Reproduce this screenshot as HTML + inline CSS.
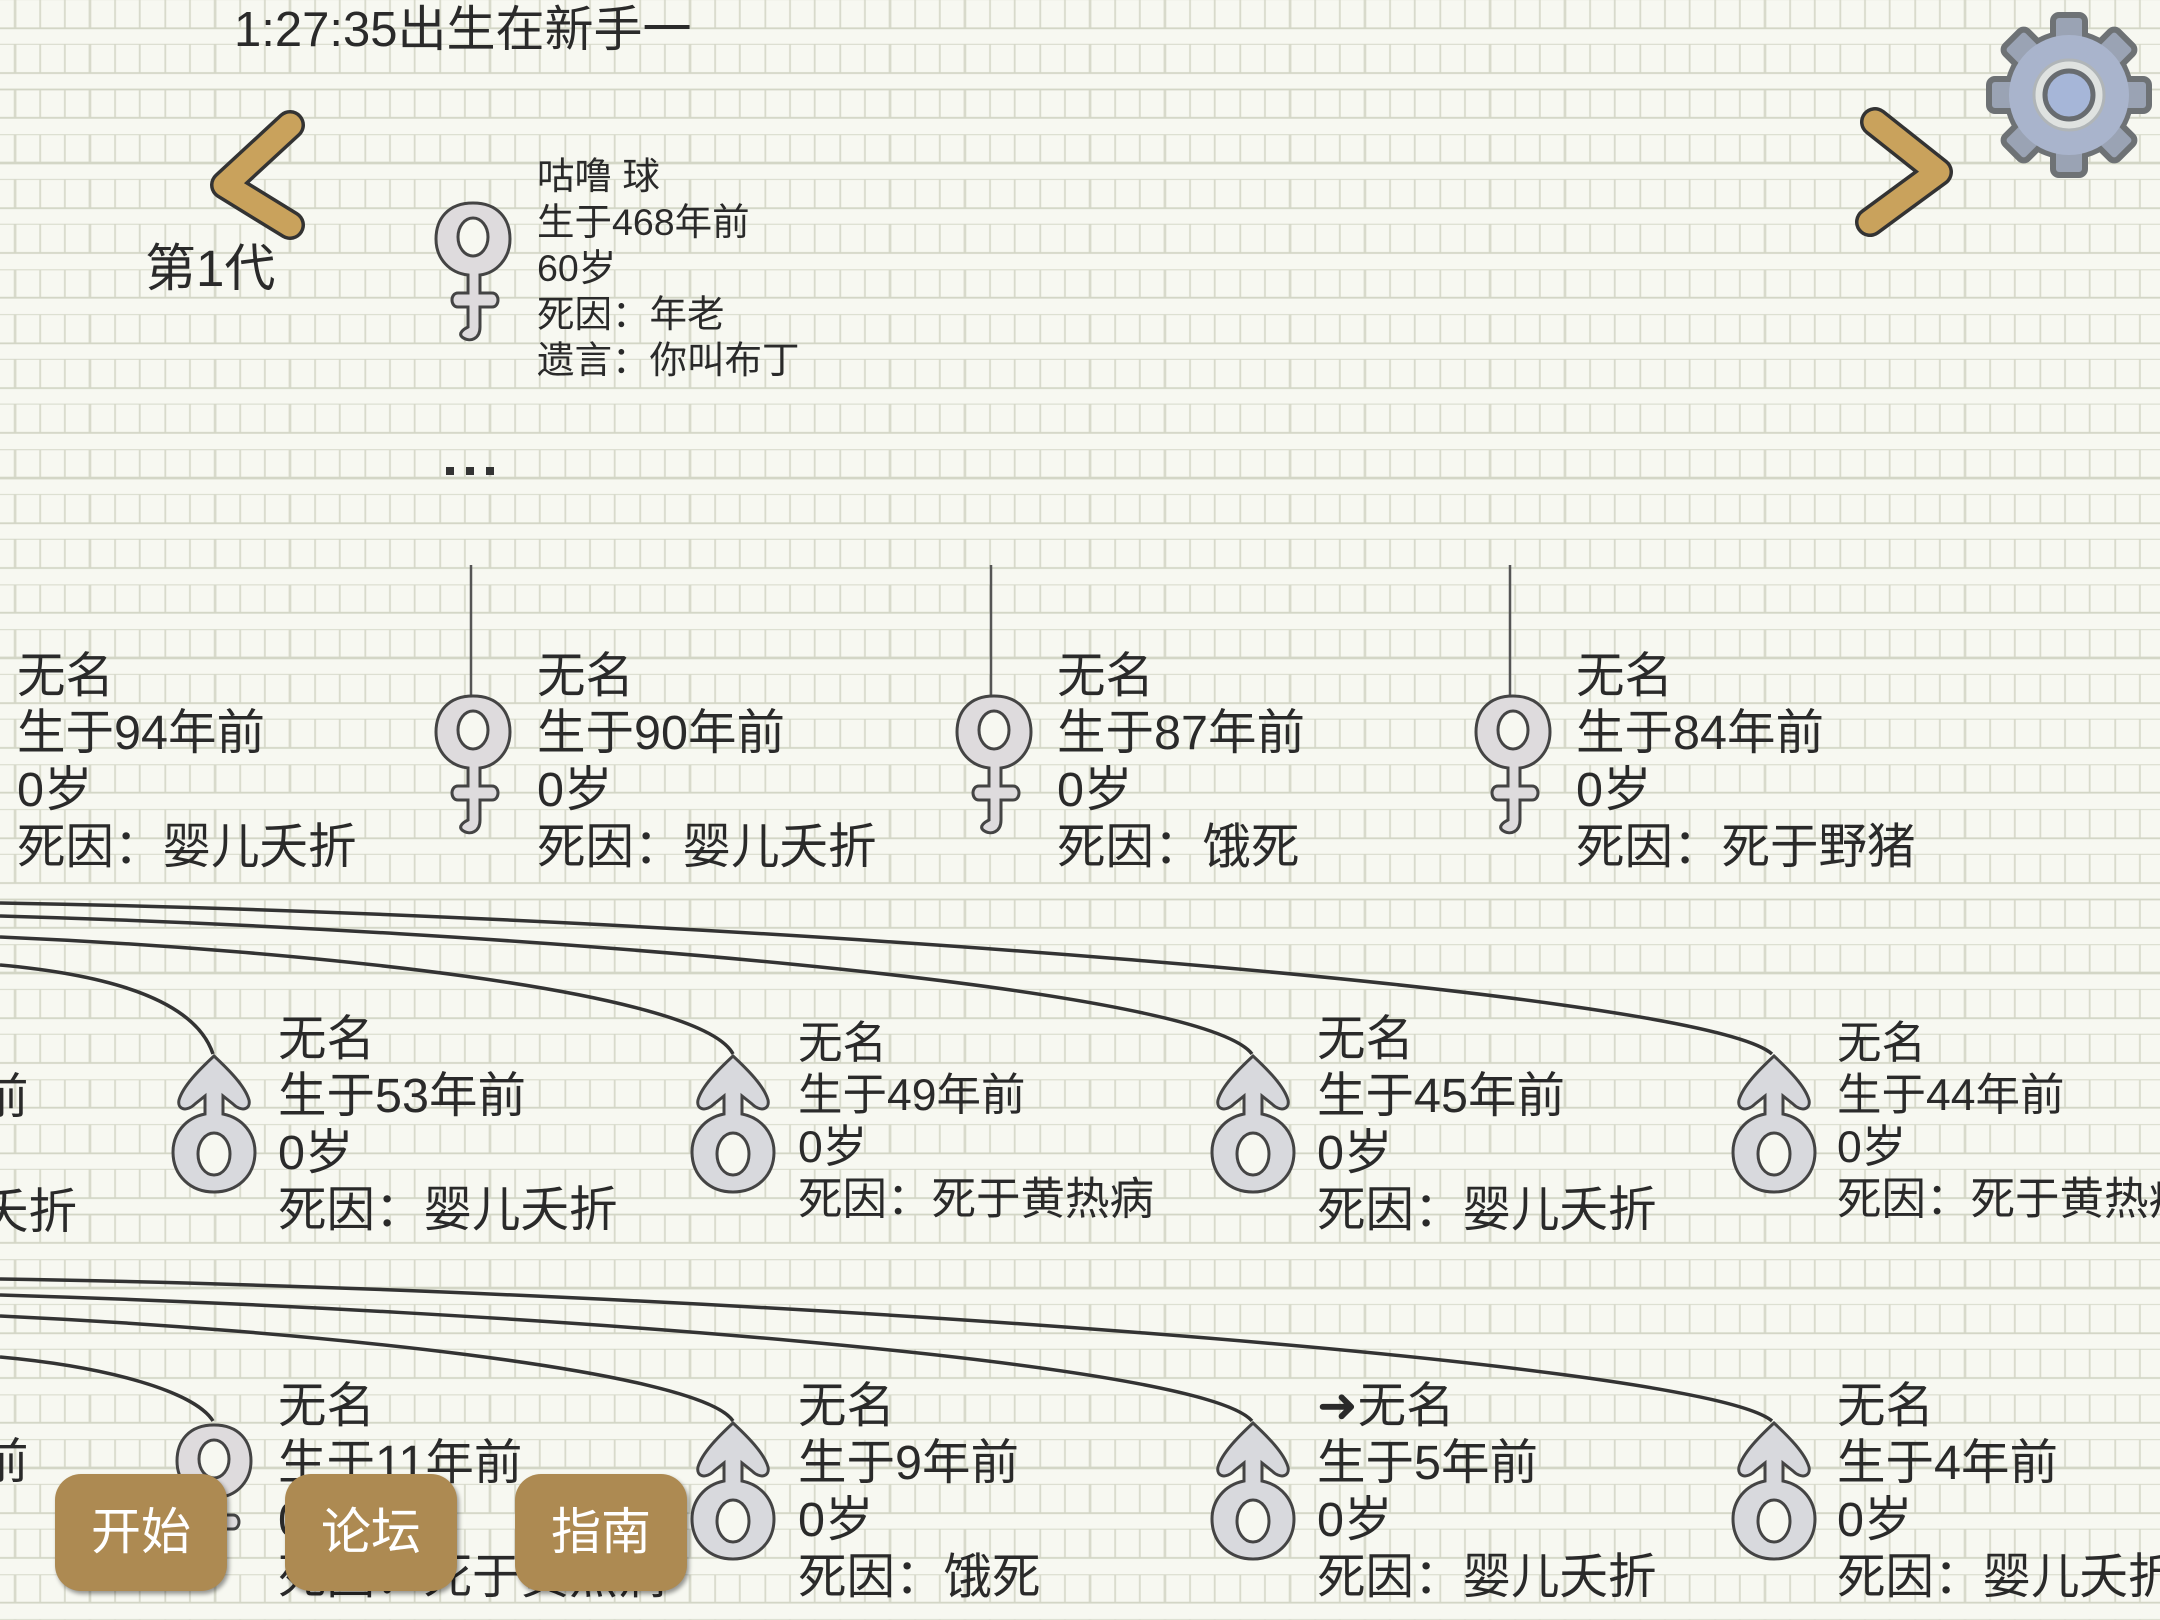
<!DOCTYPE html>
<html><head><meta charset="utf-8"><style>
html,body{margin:0;padding:0}
body{width:2160px;height:1620px;overflow:hidden;position:relative;font-family:"Liberation Sans","Noto Sans CJK SC",sans-serif;color:#2a2a2a;
background:
repeating-linear-gradient(180deg,transparent 0 27px,#d3d6c6 27px 29px,#f7f8f1 29px 44px,#d3d6c6 44px 45px),
repeating-linear-gradient(90deg,#f7f8f1 0 14px,#d8dacb 14px 16px,#f7f8f1 16px 25px);
background-color:#f7f8f1;}
.t{position:absolute;white-space:nowrap;line-height:57px;font-size:48.5px}
.s{position:absolute;line-height:46px;font-size:37.5px;white-space:nowrap}
.btn{position:absolute;width:172px;height:117px;background:#ad8a52;border-radius:26px;color:#fff;font-size:50px;text-align:center;line-height:117px;box-shadow:2px 3px 4px rgba(0,0,0,.4)}
svg{position:absolute;left:0;top:0}
</style></head><body>
<svg width="2160" height="1620" viewBox="0 0 2160 1620">
<defs>
<g id="fem">
<path d="M43,6 C68,6 80,22 80,42 C80,62 66,76 50,78 L50,96 L62,96 C70,96 70,110 62,110 L50,110 L50,130 C50,142 40,146 32,140 C28,136 34,132 38,130 L38,110 L28,110 C20,110 20,96 28,96 L38,96 L38,78 C20,76 6,62 6,42 C6,22 18,6 43,6 Z" fill="#dedbdd" stroke="#444" stroke-width="3"/>
<ellipse cx="43" cy="40" rx="15" ry="19" fill="#f7f8f1" stroke="#444" stroke-width="3"/>
</g>
<g id="mal">
<path d="M43,4 C58,18 74,34 78,48 C80,58 70,60 62,52 L52,44 L52,62 C72,66 84,82 84,100 C84,124 66,140 43,140 C20,140 2,124 2,100 C2,82 14,66 34,62 L34,44 L24,52 C16,60 6,58 8,48 C12,34 28,18 43,4 Z" fill="#d8d9dd" stroke="#444" stroke-width="3"/>
<ellipse cx="43" cy="102" rx="16" ry="21" fill="#f7f8f1" stroke="#444" stroke-width="3"/>
</g>
</defs>
<path d="M290,125 L225,185 L290,225" fill="none" stroke="#333" stroke-width="30" stroke-linecap="round" stroke-linejoin="round"/>
<path d="M290,125 L225,185 L290,225" fill="none" stroke="#c9a25c" stroke-width="23" stroke-linecap="round" stroke-linejoin="round"/>
<path d="M1875,122 L1938,172 L1870,222" fill="none" stroke="#333" stroke-width="30" stroke-linecap="round" stroke-linejoin="round"/>
<path d="M1875,122 L1938,172 L1870,222" fill="none" stroke="#c9a25c" stroke-width="23" stroke-linecap="round" stroke-linejoin="round"/>
<g transform="translate(2069,95)">
<g fill="#9aa3b4" stroke="#6e7275" stroke-width="6">
<circle r="62"/>
<rect x="-16" y="-80" width="32" height="36" rx="6"/>
<rect x="-16" y="-80" width="32" height="36" rx="6" transform="rotate(45)"/>
<rect x="-16" y="-80" width="32" height="36" rx="6" transform="rotate(90)"/>
<rect x="-16" y="-80" width="32" height="36" rx="6" transform="rotate(135)"/>
<rect x="-16" y="-80" width="32" height="36" rx="6" transform="rotate(180)"/>
<rect x="-16" y="-80" width="32" height="36" rx="6" transform="rotate(225)"/>
<rect x="-16" y="-80" width="32" height="36" rx="6" transform="rotate(270)"/>
<rect x="-16" y="-80" width="32" height="36" rx="6" transform="rotate(315)"/>
</g>
<circle r="60" fill="#a9b4cc"/>
<circle r="35" fill="#dfe2e0" stroke="#b0b5b8" stroke-width="3"/>
<circle r="24" fill="#a6b6d8" stroke="#686c70" stroke-width="5"/>
</g>
<g stroke="#555" stroke-width="2.5">
<line x1="471" y1="565" x2="471" y2="696"/>
<line x1="991" y1="565" x2="991" y2="696"/>
<line x1="1510" y1="565" x2="1510" y2="696"/>
</g>
<g fill="none" stroke="#333" stroke-width="3.5">
<path d="M0,965 C110,975 195,1000 213,1054"/>
<path d="M0,937 C300,950 700,990 733,1054"/>
<path d="M0,916 C500,930 1200,985 1252,1054"/>
<path d="M0,903 C700,915 1700,990 1772,1054"/>
<path d="M0,1357 C110,1367 195,1392 213,1421"/>
<path d="M0,1316 C300,1330 700,1370 733,1421"/>
<path d="M0,1295 C500,1310 1200,1360 1252,1421"/>
<path d="M0,1279 C700,1290 1700,1360 1772,1421"/>
</g>
<use href="#fem" x="430" y="197"/>
<use href="#fem" x="430" y="690"/>
<use href="#fem" x="951" y="690"/>
<use href="#fem" x="1470" y="690"/>
<use href="#mal" x="171" y="1052"/>
<use href="#mal" x="690" y="1052"/>
<use href="#mal" x="1210" y="1052"/>
<use href="#mal" x="1731" y="1052"/>
<use href="#fem" x="171" y="1419"/>
<use href="#mal" x="690" y="1419"/>
<use href="#mal" x="1210" y="1419"/>
<use href="#mal" x="1731" y="1419"/>
<g fill="#333"><rect x="446" y="467" width="8" height="8"/><rect x="466" y="467" width="8" height="8"/><rect x="486" y="467" width="8" height="8"/></g>
</svg>

<div class="t" style="left:234px;top:2px;font-size:49px">1:27:35出生在新手一</div>
<div class="t" style="left:145px;top:240px;font-size:51px">第1代</div>
<div class="s" style="left:537px;top:153px">咕噜 球<br>生于468年前<br>60岁<br>死因：年老<br>遗言：你叫布丁</div>

<div class="t" style="left:17px;top:648px">无名<br>生于94年前<br>0岁<br>死因：婴儿夭折</div>
<div class="t" style="left:537px;top:648px">无名<br>生于90年前<br>0岁<br>死因：婴儿夭折</div>
<div class="t" style="left:1057px;top:648px">无名<br>生于87年前<br>0岁<br>死因：饿死</div>
<div class="t" style="left:1576px;top:648px">无名<br>生于84年前<br>0岁<br>死因：死于野猪</div>

<div class="t" style="left:-20px;top:1069px">前</div>
<div class="t" style="left:-20px;top:1184px">夭折</div>
<div class="t" style="left:278px;top:1011px">无名<br>生于53年前<br>0岁<br>死因：婴儿夭折</div>
<div class="t" style="left:798px;top:1018px;font-size:44.5px;line-height:52px">无名<br>生于49年前<br>0岁<br>死因：死于黄热病</div>
<div class="t" style="left:1317px;top:1011px">无名<br>生于45年前<br>0岁<br>死因：婴儿夭折</div>
<div class="t" style="left:1837px;top:1018px;font-size:44.5px;line-height:52px">无名<br>生于44年前<br>0岁<br>死因：死于黄热病</div>

<div class="t" style="left:-20px;top:1434px">前</div>
<div class="t" style="left:278px;top:1378px">无名<br>生于11年前<br>0岁<br>死因：死于黄热病</div>
<div class="t" style="left:798px;top:1378px">无名<br>生于9年前<br>0岁<br>死因：饿死</div>
<div class="t" style="left:1317px;top:1378px">➜无名<br>生于5年前<br>0岁<br>死因：婴儿夭折</div>
<div class="t" style="left:1837px;top:1378px">无名<br>生于4年前<br>0岁<br>死因：婴儿夭折</div>

<div class="btn" style="left:55px;top:1474px">开始</div>
<div class="btn" style="left:285px;top:1474px">论坛</div>
<div class="btn" style="left:515px;top:1474px">指南</div>
</body></html>
